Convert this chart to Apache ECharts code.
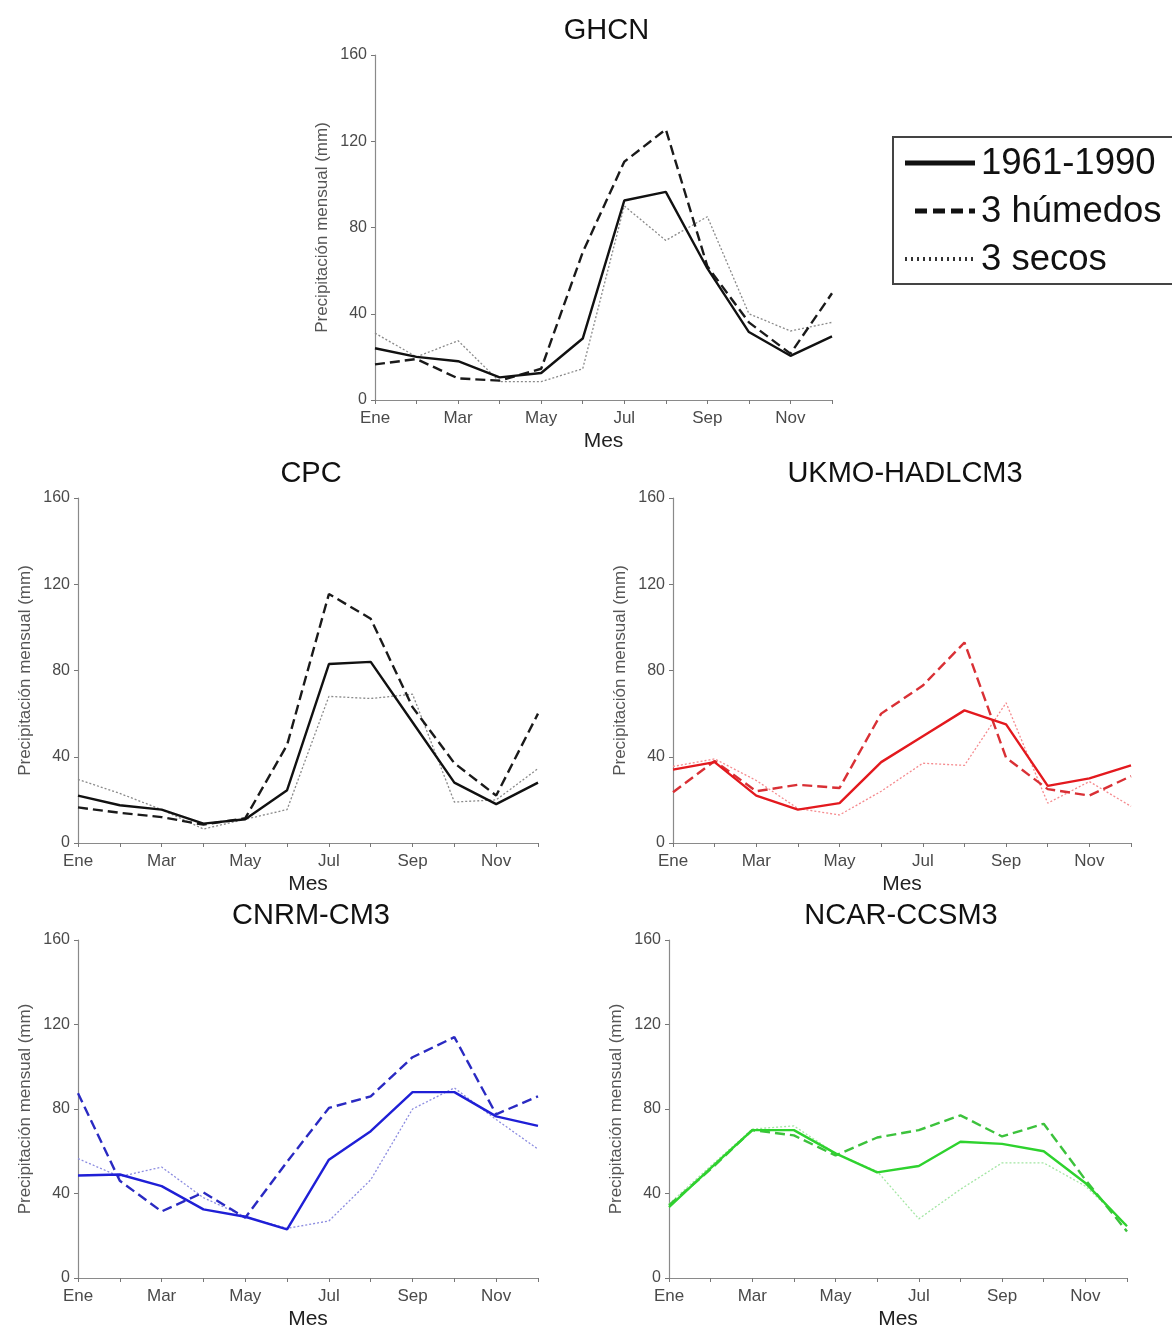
<!DOCTYPE html>
<html><head><meta charset="utf-8">
<script src="https://cdn.jsdelivr.net/npm/echarts@6/dist/echarts.min.js"></script>
<style>html,body{margin:0;padding:0;background:#fff}#c{width:1172px;height:1331px}</style>
</head><body><div id="c"></div>
<script>
const months = ['Ene','Feb','Mar','Abr','May','Jun','Jul','Ago','Sep','Oct','Nov','Dic'];
const yTicks = [0, 40, 80, 120, 160];
const seriesNames = ['1961-1990', '3 húmedos', '3 secos'];

const ghcnBase = [24, 20, 18, 10.5, 12.5, 28.5, 92.5, 96.5, 61, 31.5, 20.5, 29.5];
const ghcnWet  = [16.5, 19, 10, 9, 14.5, 68.5, 110.5, 125.5, 62, 36, 21.5, 49.5];
const ghcnDry  = [31, 20, 27.5, 8.5, 8.5, 14.5, 90, 74, 85, 40, 32, 36];

const cpcBase = [22, 17.5, 15.5, 9, 11, 24.5, 83, 84, 56, 28, 18, 28];
const cpcWet  = [16.5, 14, 12, 8.5, 11.5, 45.5, 115.5, 104, 63, 37, 22, 60];
const cpcDry  = [29.5, 23, 15.5, 6.5, 11, 15.5, 68, 67, 69, 19, 20, 34.5];

const ukmoBase = [34, 37.5, 22, 15.5, 18.5, 37.5, 49.5, 61.5, 55, 26.5, 30, 36];
const ukmoWet  = [23.5, 38, 24, 27, 25.5, 60, 73, 93, 39.5, 25, 22, 31];
const ukmoDry  = [35.5, 39, 29, 16, 13, 24, 37, 36, 65, 18.5, 28.5, 17];

const cnrmBase = [48.5, 49, 43.5, 32.5, 29, 23, 56, 69.5, 88, 88, 76.5, 72];
const cnrmWet  = [87.5, 46, 31.5, 40.5, 28.5, 55, 80.5, 86, 104.5, 114, 77.5, 86];
const cnrmDry  = [56.5, 48, 52.5, 38, 29, 23.5, 27, 46.5, 80, 90, 75, 61];

const ncarBase = [33.5, 52, 70, 70, 59, 50, 53, 64.5, 63.5, 60, 45, 24.5];
const ncarWet  = [34.5, 51.5, 70, 67.5, 58, 66.5, 70, 77, 67, 73, 46.5, 22];
const ncarDry  = [35, 53, 70.5, 72, 59, 50.5, 28, 42, 54.5, 54.5, 43.5, 25];

const panels = [
  {title:'GHCN', data:[ghcnBase, ghcnWet, ghcnDry], colors:['#111111','#1a1a1a','#8a8a8a'], grid:{left:375, top:55, width:457, height:345}},
  {title:'CPC', data:[cpcBase, cpcWet, cpcDry], colors:['#111111','#1a1a1a','#8a8a8a'], grid:{left:78, top:498, width:460, height:345}},
  {title:'UKMO-HADLCM3', data:[ukmoBase, ukmoWet, ukmoDry], colors:['#e3191e','#d93035','#f58a8e'], grid:{left:673, top:498, width:458, height:345}},
  {title:'CNRM-CM3', data:[cnrmBase, cnrmWet, cnrmDry], colors:['#1f1fd6','#2a2ac2','#8c8ce0'], grid:{left:78, top:940, width:460, height:344}},
  {title:'NCAR-CCSM3', data:[ncarBase, ncarWet, ncarDry], colors:['#2ed22e','#3cc23c','#a3e6a3'], grid:{left:669, top:940, width:458, height:344}}
];

const font = '"Liberation Sans", Arial, sans-serif';
const option = {
  backgroundColor:'#ffffff',
  animation:false,
  title:[], grid:[], xAxis:[], yAxis:[], series:[], graphic:[]
};
const lineTypes = ['solid', [10,5], [2,2]];
const lineWidths = [2.4, 2.4, 1.3];

panels.forEach((p, i) => {
  option.grid.push(Object.assign({containLabel:false}, p.grid));
  option.title.push({
    text:p.title, left:p.grid.left + p.grid.width/2 - 2, top:p.grid.top - 44, textAlign:'center',
    textStyle:{fontFamily:font, fontSize:29, fontWeight:'normal', color:'#111'}
  });
  option.xAxis.push({
    type:'category', gridIndex:i, data:months, boundaryGap:false,
    name:'Mes', nameLocation:'middle', nameGap:31,
    nameTextStyle:{fontFamily:font, fontSize:21, color:'#222'},
    axisLine:{lineStyle:{color:'#8a8a8a', width:1.2}},
    axisTick:{show:true, interval:0, length:4, lineStyle:{color:'#777'}},
    axisLabel:{interval:1, fontFamily:font, fontSize:17, color:'#4a4a4a', margin:10},
    splitLine:{show:false}
  });
  option.yAxis.push({
    type:'value', gridIndex:i, min:yTicks[0], max:yTicks[yTicks.length-1], interval:40,
    name:'Precipitación mensual (mm)', nameLocation:'middle', nameGap:44,
    nameTextStyle:{fontFamily:font, fontSize:17, color:'#555'},
    axisLine:{show:true, lineStyle:{color:'#8a8a8a', width:1.2}},
    axisTick:{show:true, length:4, lineStyle:{color:'#777'}},
    axisLabel:{fontFamily:font, fontSize:16, color:'#4a4a4a', margin:8},
    splitLine:{show:false}
  });
  p.data.forEach((arr, k) => {
    option.series.push({
      type:'line', name:seriesNames[k], xAxisIndex:i, yAxisIndex:i, data:arr,
      symbol:'none', silent:true,
      lineStyle:{color:p.colors[k], width:lineWidths[k], type:lineTypes[k]},
      z: 3 - k
    });
  });
});

// Legend box
const lx = 893, ly = 137;
option.graphic = [
  {type:'rect', shape:{x:lx, y:ly, width:285, height:147}, style:{fill:'#fff', stroke:'#444', lineWidth:2}, z:10},
  {type:'line', shape:{x1:905, y1:163, x2:975, y2:163}, style:{stroke:'#111', lineWidth:5}, z:11},
  {type:'line', shape:{x1:915, y1:211, x2:975, y2:211}, style:{stroke:'#111', lineWidth:5, lineDash:[12,6]}, z:11},
  {type:'line', shape:{x1:905, y1:259, x2:975, y2:259}, style:{stroke:'#333', lineWidth:4, lineDash:[2,4]}, z:11},
  {type:'text', x:981, y:164, style:{text:seriesNames[0], font:'36.5px '+font, fill:'#111', verticalAlign:'middle'}, z:11},
  {type:'text', x:981, y:212, style:{text:seriesNames[1], font:'36.5px '+font, fill:'#111', verticalAlign:'middle'}, z:11},
  {type:'text', x:981, y:260, style:{text:seriesNames[2], font:'36.5px '+font, fill:'#111', verticalAlign:'middle'}, z:11}
];

const chart = echarts.init(document.getElementById('c'), null, {renderer:'canvas'});
chart.setOption(option);
</script>
</body></html>
